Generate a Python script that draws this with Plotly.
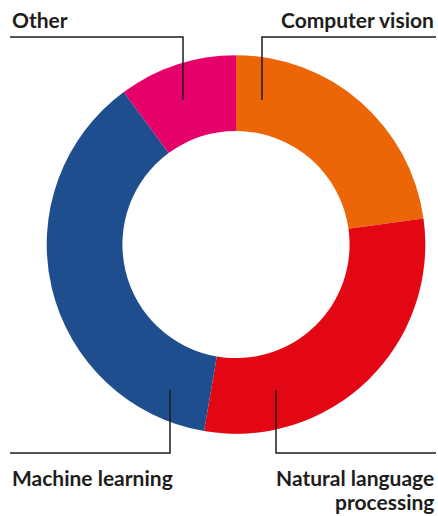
import plotly.graph_objects as go

W, H = 438, 516

categories = ["Computer vision", "Natural language processing", "Machine learning", "Other"]
shares = [22.8, 29.9, 37.2, 10.1]
colors = ["#EC6608", "#E30613", "#1F4E8F", "#E5006A"]

TEXT = "#1d1d1b"
FONT = "Lato"
FS = 21

def px(x):
    return x / W

def py(y):
    return 1 - y / H

fig = go.Figure(go.Pie(
    labels=categories,
    values=shares,
    hole=0.6,
    sort=False,
    direction="clockwise",
    rotation=0,
    marker=dict(colors=colors, line=dict(width=0)),
    textinfo="none",
    hoverinfo="label+percent",
    showlegend=False,
    domain=dict(x=[px(236 - 189.3), px(236 + 189.3)], y=[py(433.8), py(55.2)]),
))

# leader lines (pixel layout constants)
lines = [
    [(10, 37), (183, 37), (183, 100)],
    [(436, 37), (262, 37), (262, 100)],
    [(10, 453), (170, 453), (170, 390)],
    [(436, 453), (276, 453), (276, 390)],
]
for pts in lines:
    path = "M " + " L ".join(f"{px(x)},{py(y)}" for x, y in pts)
    fig.add_shape(type="path", path=path, xref="paper", yref="paper",
                  line=dict(color=TEXT, width=1.5))

# (text, x, baseline y, anchor)
labels = [
    ("Other", 10, 26, "left"),
    ("Computer vision", 436, 26, "right"),
    ("Machine learning", 10, 484, "left"),
    ("Natural language", 436, 484, "right"),
    ("processing", 436, 508, "right"),
]
for text, x, base, anchor in labels:
    # centre of box ~ baseline - 0.33*size
    fig.add_annotation(text=f"<b>{text}</b>", x=px(x), y=py(base - 0.3 * FS), xref="paper", yref="paper",
                       xanchor=anchor, yanchor="middle", showarrow=False, align=anchor,
                       font=dict(family=FONT, size=FS, color=TEXT))

fig.update_layout(width=W, height=H, margin=dict(l=0, r=0, t=0, b=0),
                  paper_bgcolor="white", plot_bgcolor="white")

fig.write_html("out.html")
